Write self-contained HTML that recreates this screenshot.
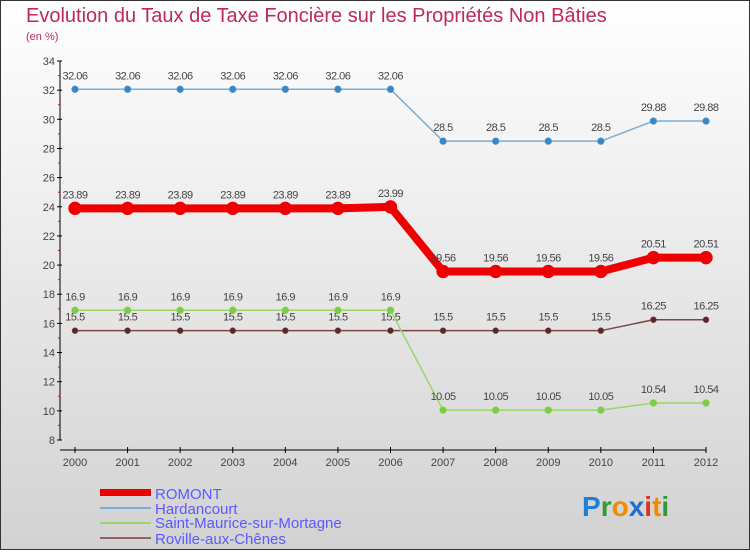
<!DOCTYPE html>
<html><head><meta charset="utf-8"><style>
html,body{margin:0;padding:0;}
body{width:750px;height:550px;overflow:hidden;font-family:"Liberation Sans",sans-serif;}
</style></head><body>
<svg id="chart" width="750" height="550" xmlns="http://www.w3.org/2000/svg">
<defs><linearGradient id="bg" x1="0" y1="0" x2="0" y2="1"><stop offset="0" stop-color="#ffffff"/><stop offset="1" stop-color="#d2d2d2"/></linearGradient></defs>
<rect x="0.5" y="0.5" width="749" height="549" fill="url(#bg)" stroke="#333" stroke-width="1"/>
<text x="26" y="22" font-size="20" fill="#c0285a">Evolution du Taux de Taxe Foncière sur les Propriétés Non Bâties</text>
<text x="26" y="40" font-size="11" fill="#c0285a">(en %)</text>
<g id="axes"></g><g id="series"></g>
<g font-size="15" fill="#5a5aff">
<rect x="100" y="489" width="51" height="7" fill="#e00"/>
<text x="155" y="499">ROMONT</text>
<rect x="100" y="507" width="51" height="2" fill="#7aaed6"/>
<text x="155" y="514">Hardancourt</text>
<rect x="100" y="522" width="51" height="2" fill="#9ad66a"/>
<text x="155" y="528">Saint-Maurice-sur-Mortagne</text>
<rect x="100" y="537" width="51" height="2" fill="#946060"/>
<text x="155" y="544">Roville-aux-Chênes</text>
</g>
<g font-size="28" font-weight="bold">
<text x="582" y="516"><tspan fill="#1f7fd6">P</tspan><tspan fill="#2e9a3a">r</tspan><tspan fill="#f08a00">o</tspan><tspan fill="#1f6fd0">x</tspan><tspan fill="#e03020">i</tspan><tspan fill="#f08a00">t</tspan><tspan fill="#2e9a3a">i</tspan></text>
</g>
</svg>
<script>
const years = ["2000","2001","2002","2003","2004","2005","2006","2007","2008","2009","2010","2011","2012"];
const yTicks = [8,10,12,14,16,18,20,22,24,26,28,30,32,34];
const romont = [23.89,23.89,23.89,23.89,23.89,23.89,23.99,19.56,19.56,19.56,19.56,20.51,20.51];
const hardancourt = [32.06,32.06,32.06,32.06,32.06,32.06,32.06,28.5,28.5,28.5,28.5,29.88,29.88];
const saintMaurice = [16.9,16.9,16.9,16.9,16.9,16.9,16.9,10.05,10.05,10.05,10.05,10.54,10.54];
const roville = [15.5,15.5,15.5,15.5,15.5,15.5,15.5,15.5,15.5,15.5,15.5,16.25,16.25];

const NS="http://www.w3.org/2000/svg";
const x0=75,x1=706,yMin=8,yMax=34,py0=440,py1=61;
const X=i=>x0+i*(x1-x0)/(years.length-1);
const Y=v=>py0-(v-yMin)*(py0-py1)/(yMax-yMin);
function el(tag,attrs,parent,text){const e=document.createElementNS(NS,tag);for(const k in attrs)e.setAttribute(k,attrs[k]);if(text!==undefined)e.textContent=text;parent.appendChild(e);return e;}
const axes=document.getElementById('axes');
let a=el('line',{x1:60,y1:Y(yMax),x2:60,y2:Y(yMin),stroke:'#000'},axes);


a=el('line',{x1:60,y1:450,x2:x1,y2:450,stroke:'#000'},axes);


yTicks.forEach((t,i)=>{
  el('line',{x1:57,y1:Y(t),x2:62,y2:Y(t),stroke:'#000'},axes);
  if(i<yTicks.length-1) el('line',{x1:58,y1:Y(t+1),x2:60,y2:Y(t+1),stroke:'#e00'},axes);
  const tx=el('text',{x:55,y:Y(t)+4,'font-size':11,fill:'#444','text-anchor':'end'},axes,String(t));
  
  
});
years.forEach((yr,i)=>{
  el('line',{x1:X(i),y1:447,x2:X(i),y2:453,stroke:'#000'},axes);
  const tx=el('text',{x:X(i),y:466,'font-size':11,fill:'#444','text-anchor':'middle'},axes,yr);
  
  
});
const ser=document.getElementById('series');
function draw(name,data,color,dot,w,r){
  const g=el('g',{},ser);
  
  
  const ln=el('polyline',{points:data.map((v,i)=>X(i)+','+Y(v)).join(' '),fill:'none',stroke:color,'stroke-width':w,'stroke-linejoin':'round'},g);
  
  
  data.forEach((v,i)=>{
    const c=el('circle',{cx:X(i),cy:Y(v),r:r,fill:dot,stroke:color,'stroke-width':0.5},g);
    
    
    const t=el('text',{x:X(i),y:Y(v)-10,'font-size':11,fill:'#444','text-anchor':'middle','letter-spacing':'-0.5'},g,String(v));
    
    
  });
}
draw('roville',roville,'#7a4848','#5a2a2a',1.5,3);
draw('saint-maurice',saintMaurice,'#9ad66a','#7ccc44',1.5,3.5);
draw('hardancourt',hardancourt,'#7aaed6','#3a86c6',1.5,3.5);
draw('romont',romont,'#ee0000','#ee0000',8,6.5);
</script>
</body></html>
